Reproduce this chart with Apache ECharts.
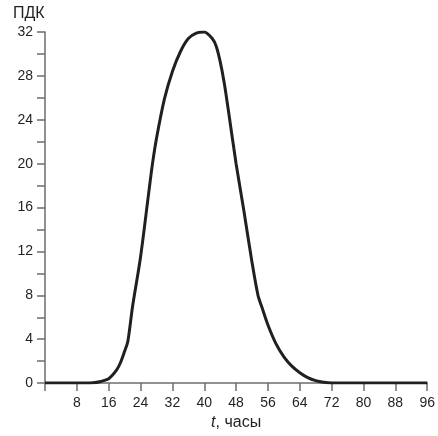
<!DOCTYPE html>
<html>
<head>
<meta charset="utf-8">
<script src="https://cdn.jsdelivr.net/npm/echarts@6/dist/echarts.min.js"></script>
<style>
  html, body { margin: 0; padding: 0; background: #fff; }
  #chart { width: 438px; height: 436px; }
</style>
</head>
<body>
<div id="chart"></div>
<script>
// hours
const hours = [0, 4, 8, 12, 14, 16, 18, 19, 20, 20.8, 22, 24, 26, 27, 28, 30, 32, 34, 36, 38, 40,
  42, 43, 44, 45, 46, 48, 50, 52, 53.5, 54.5, 56, 58, 60, 62, 64, 66, 68, 70, 72, 80, 88, 96];
// concentration, ПДК
const pdk = [0, 0, 0, 0.03, 0.15, 0.4, 1.2, 1.9, 2.9, 3.8, 7.0, 11.5, 17.2, 20.0, 22.3, 25.9, 28.4, 30.2, 31.4, 31.9, 32.0,
  31.4, 30.7, 29.3, 27.4, 25.0, 20.0, 15.6, 11.0, 8.0, 6.9, 5.3, 3.6, 2.4, 1.55, 0.95, 0.5, 0.22, 0.07, 0, 0, 0, 0];
const yTicks = [0, 4, 8, 12, 16, 20, 24, 28, 32];
const xTicks = [8, 16, 24, 32, 40, 48, 56, 64, 72, 80, 88, 96];

const font = "'Liberation Sans', Arial, sans-serif";
const axisColor = '#6d6d6d';
const textColor = '#231f20';

const chart = echarts.init(document.getElementById('chart'));
chart.setOption({
  animation: false,
  grid: { left: 45, right: 10, top: 32, bottom: 46 },
  graphic: [{
    type: 'text', left: 13, top: 6,
    style: { text: 'ПДК', fontFamily: font, fontSize: 16, fill: textColor }
  }],
  xAxis: {
    type: 'value', min: 0, max: 96, interval: 8,
    name: '{i|t}, часы', nameLocation: 'middle', nameGap: 30,
    nameTextStyle: {
      fontFamily: font, fontSize: 16, color: textColor,
      rich: { i: { fontStyle: 'italic', fontFamily: font, fontSize: 16, color: textColor } }
    },
    axisLine: { show: true, lineStyle: { color: axisColor, width: 1.5 } },
    axisTick: { show: true, inside: false, length: 8, lineStyle: { color: axisColor, width: 1.5 } },
    axisLabel: {
      fontFamily: font, fontSize: 14, color: textColor, margin: 13,
      formatter: v => xTicks.includes(v) ? String(v) : ''
    },
    splitLine: { show: false }
  },
  yAxis: {
    type: 'value', min: 0, max: 32, interval: 2,
    axisLine: { show: true, lineStyle: { color: axisColor, width: 1.5 } },
    axisTick: { show: true, inside: false, length: 8, lineStyle: { color: axisColor, width: 1.5 } },
    axisLabel: {
      fontFamily: font, fontSize: 14, color: textColor, margin: 12,
      formatter: v => yTicks.includes(v) ? String(v) : ''
    },
    splitLine: { show: false }
  },
  series: [{
    type: 'line',
    data: hours.map((h, i) => [h, pdk[i]]),
    smooth: 0.3,
    showSymbol: false,
    lineStyle: { color: textColor, width: 3 },
    z: 5
  }]
});
</script>
</body>
</html>
